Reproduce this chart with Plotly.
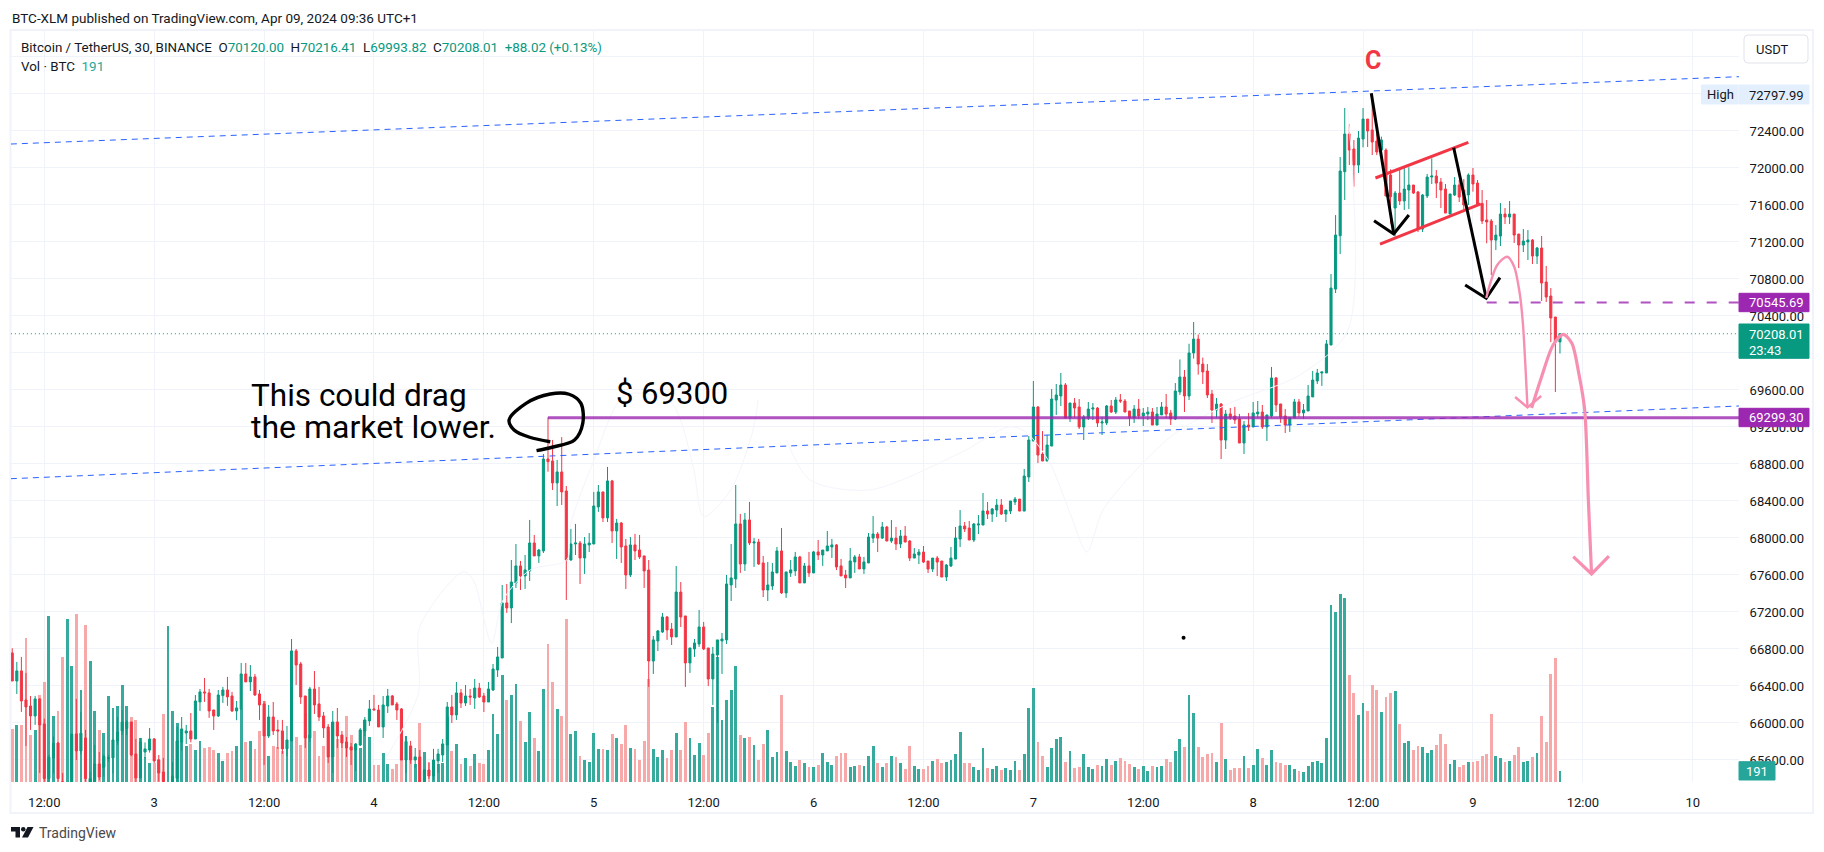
import pandas as pd
import plotly.graph_objects as go

# ---------- chart data (BTC/USDT 30 min) ----------
opens = [
66757,66454,66563,66249,66184,66076,66260,65990,65400,65622,65784,65365,65300,65365,65882,65698,65838,65300,65365,65557,
65520,65615,65622,65806,65914,65940,66011,65665,65406,65686,65708,65827,65600,65470,65290,65365,65400,65795,65892,65914,
65827,66228,66336,66325,66141,66076,66296,66357,66292,66130,66152,66530,66444,66498,66314,66206,65860,66065,65925,65914,
65720,65806,66779,66638,66292,65838,66368,66206,66076,65957,65633,66011,65870,65795,65741,65708,65762,65914,66022,66152,
66141,65957,66184,66292,66206,66152,65600,65752,65600,65633,65365,65492,65427,65590,65654,65762,66173,66087,66325,66216,
66292,66270,66378,66292,66227,66357,66573,66703,67298,67244,67514,67698,67590,67644,67946,67806,67860,68854,68833,68595,
68714,68508,67762,67935,67946,67784,67925,67935,68336,68498,68217,68617,68076,68162,67914,67600,67925,67870,67806,67654,
66670,66887,66984,67146,67016,66930,67416,67157,66649,66800,66854,67038,66811,66476,66735,66887,66898,67492,67557,68152,
67719,68195,67946,67957,67730,67438,67481,67622,67860,67406,67622,67644,67795,67514,67698,67622,67849,67816,67860,67903,
67925,67698,67600,67568,67741,67795,67665,67730,67999,68043,67999,68119,67967,67999,67935,68021,67967,67783,67816,67848,
67751,67664,67783,67751,67578,67697,67772,67989,68130,68108,67978,68140,68140,68292,68259,68302,68356,68259,68291,68389,
68421,68291,68659,69048,69416,68908,68832,68994,69491,69535,69654,69297,69459,69416,69200,69297,69394,69405,69243,69243,
69427,69362,69492,69481,69373,69297,69394,69319,69340,69362,69221,69330,69416,69351,69286,69578,69740,69535,70000,70150,
69880,69805,69556,69383,69448,69059,69341,69319,69287,69027,69222,69200,69341,69362,69200,69319,69730,69449,69319,69222,
69298,69471,69352,69373,69525,69698,69784,69784,70086,70691,71268,71960,72367,72205,72032,72313,72529,72411,72292,72194,
72194,71924,71567,71729,71643,71762,71816,71740,71340,71697,71902,71913,71848,71773,71502,71708,71816,71762,71708,71924,
71837,71617,71438,71427,71221,71264,71502,71470,71502,71286,71167,71200,71221,71048,71135,70767,70616,70389,70120]
highs = [
66808,66660,66714,66541,66292,66292,66267,66047,65655,65853,65795,65460,65350,65885,66260,66120,65925,65474,65763,65687,
65660,65655,65817,66065,66141,66030,66011,65827,65838,65790,65946,65838,65654,65622,65350,65578,65960,66065,65979,66108,
66303,66368,66487,66368,66141,66357,66390,66498,66336,66238,66649,66649,66627,66530,66357,66238,66195,66227,66033,66033,
65968,66908,66800,66660,66292,66390,66562,66390,66119,65989,66130,66162,65914,65849,65784,65784,65946,66065,66249,66303,
66195,66292,66368,66303,66227,66162,65860,65806,65730,65708,65500,65578,65720,65720,65827,66227,66303,66443,66368,66411,
66368,66476,66433,66325,66443,66638,66822,67492,67503,67762,67935,67752,67816,68195,68033,67881,68908,69305,69060,68844,
69090,68562,68098,68152,67968,68011,68054,68498,68573,68498,68768,68628,68206,68173,67990,68011,68044,68033,67806,67762,
66941,67006,67190,67157,67081,67697,67524,67157,66811,66908,67222,67092,66811,66822,66898,66973,67600,67935,68573,68260,
68271,68390,68000,67990,67806,67741,67730,67903,68108,67633,67762,67849,67806,67730,67849,67860,67979,67870,68076,67990,
67935,67773,67654,67892,67816,67827,67795,68054,68237,68064,68173,68130,68194,68119,68086,68130,67978,67891,67881,67913,
67751,67783,67805,67751,67718,67902,68119,68302,68173,68184,68162,68248,68486,68389,68324,68421,68421,68302,68400,68443,
68421,68746,69102,69697,69427,69156,69113,69610,69665,69784,69675,69459,69513,69502,69330,69470,69459,69416,69308,69438,
69492,69524,69557,69502,69373,69438,69502,69405,69416,69405,69416,69470,69557,69384,69675,69930,69816,70100,70335,70200,
69950,69880,69600,69513,69459,69384,69406,69417,69341,69265,69352,69470,69481,69438,69330,69849,69741,69449,69395,69301,
69503,69503,69449,69654,69806,69827,69795,70141,70854,71491,72119,72648,72475,72302,72400,72648,72529,72798,72375,72339,
72212,71985,71751,71978,72000,72007,71816,71751,71719,71935,72104,71978,71892,71827,71719,71902,71870,71880,71942,72000,
71870,71762,71654,71448,71383,71621,71567,71643,71502,71286,71340,71329,71232,71146,71265,70940,70702,70389,70216]
lows = [
66454,66314,66120,65752,65925,65979,65460,65365,65365,65456,65365,65300,65250,65300,65600,65660,65365,65280,65340,65380,
65420,65580,65456,65763,65870,65870,65640,65340,65406,65620,65680,65568,65365,65330,65250,65340,65350,65698,65773,65790,
65827,66130,66228,66055,65925,66065,66217,66185,66120,66030,66148,66444,66346,66292,66033,65546,65838,65870,65720,65665,
65644,65806,66411,66206,65730,65795,66098,66022,65838,65568,65460,65730,65730,65633,65546,65480,65752,65860,65968,66141,
65957,65838,66108,66195,66033,65600,65460,65557,65514,65330,65340,65395,65384,65460,65578,65762,66000,66033,66162,66184,
66195,66152,66270,66119,66227,66346,66498,66703,67190,67080,67460,67438,67449,67535,67806,67730,67838,68717,68519,68346,
68357,67330,67755,67816,67503,67611,67849,67935,68282,68173,68173,67946,67773,67730,67449,67578,67762,67773,67460,66390,
66530,66778,66973,66898,66843,66930,67038,66390,66541,66714,66822,66789,66400,66195,66000,66530,66854,67319,67460,67622,
67644,67924,67687,67708,67362,67319,67438,67622,67395,67352,67579,67590,67514,67514,67579,67622,67762,67698,67860,67784,
67654,67590,67460,67568,67622,67665,67611,67730,67946,67848,67989,67967,67946,67870,67891,67956,67751,67783,67718,67729,
67621,67632,67589,67578,67535,67686,67772,67902,68064,67978,67956,68043,68140,68205,68173,68227,68248,68173,68259,68356,
68291,68291,68605,69048,68810,68832,68832,68994,69330,69427,69297,69254,69297,69178,69059,69275,69275,69200,69113,69221,
69351,69340,69459,69362,69211,69243,69286,69211,69275,69221,69221,69330,69297,69221,69275,69546,69362,69492,69940,69766,
69665,69513,69243,69300,68854,68962,69276,69233,69027,68908,69157,69200,69301,69179,69049,69298,69362,69244,69135,69146,
69298,69308,69287,69373,69525,69665,69644,69784,70086,70648,71070,71654,72032,71798,71946,72223,72227,72140,72140,72100,
71697,71400,71257,71600,71546,71556,71719,71308,71308,71675,71827,71675,71567,71513,71502,71697,71632,71550,71600,71744,
71600,71394,71186,70843,71113,71156,71394,71394,71189,70918,71091,71005,70962,70962,70562,70551,70118,69578,69994]
closes = [
66454,66563,66238,66173,66076,66260,65979,65400,65630,65780,65400,65340,65340,65878,65698,65890,65400,65400,65557,65416,
65640,65625,65817,65903,66011,66011,65655,65406,65795,65720,65827,65590,65460,65365,65320,65427,65806,65936,65914,65827,
66238,66336,66325,66130,66076,66303,66357,66282,66130,66163,66530,66444,66498,66303,66195,65860,66065,65914,65914,65720,
65816,66779,66627,66281,65838,66368,66195,66065,65946,65633,66011,65860,65784,65730,65708,65773,65925,66033,66152,66141,
65957,66195,66292,66195,66141,65600,65800,65600,65633,65365,65492,65427,65600,65665,65773,66173,66087,66325,66216,66292,
66281,66378,66281,66227,66368,66584,66714,67298,67244,67524,67698,67590,67655,67946,67806,67870,68854,68825,68595,68714,
68498,67762,67935,67946,67784,67935,67946,68346,68498,68217,68617,68076,68162,67903,67600,67925,67860,67795,67644,66670,
66898,66995,67146,67006,66930,67416,67146,66649,66811,66865,67038,66800,66476,66746,66898,66908,67503,67568,68152,67719,
68195,67946,67957,67719,67438,67492,67633,67860,67406,67633,67655,67795,67514,67698,67622,67849,67816,67870,67914,67925,
67687,67590,67568,67752,67795,67665,67741,68011,68043,67999,68119,67967,67999,67935,68021,67956,67783,67827,67848,67740,
67664,67783,67740,67578,67708,67783,68000,68130,68097,67978,68151,68151,68292,68259,68313,68356,68259,68302,68400,68421,
68291,68670,69059,69416,68897,68832,69005,69502,69546,69654,69297,69459,69405,69200,69308,69394,69405,69243,69254,69427,
69362,69492,69481,69362,69297,69394,69319,69351,69362,69221,69340,69416,69340,69286,69589,69740,69535,70000,70150,69880,
69795,69546,69383,69448,69059,69340,69305,69276,69027,69222,69200,69352,69362,69200,69330,69730,69438,69308,69222,69301,
69471,69352,69384,69535,69708,69784,69795,70098,70702,71275,71967,72367,72194,72032,72324,72529,72400,72281,72173,72303,
71697,71690,71729,71643,71773,71816,71729,71340,71708,71902,71913,71837,71762,71513,71719,71816,71686,71600,71924,71827,
71610,71427,71416,71221,71275,71502,71470,71502,71275,71167,71210,71221,71048,71135,70756,70605,70378,70120,70208]
volumes = [
946,1017,1017,2570,839,928,1553,1785,2963,1178,1267,2231,2917,2071,3000,1642,2802,2160,1267,928,
875,1535,1321,1357,1731,1357,1160,1107,785,446,339,339,410,1214,2785,1267,1053,732,643,678,
571,732,607,625,571,518,375,518,553,643,1303,714,732,589,910,1446,464,643,625,553,
750,2053,803,660,1232,839,910,464,643,910,1071,768,839,1178,839,678,607,1107,803,303,
303,518,321,232,321,732,821,518,321,1053,535,339,393,321,339,1160,553,678,321,428,
286,500,339,321,571,1214,857,1910,1464,1553,1749,1089,714,1250,785,553,1660,2463,1785,1303,
1178,2910,857,910,464,393,357,875,589,589,571,857,785,678,1017,607,589,393,732,1839,
589,446,571,428,571,875,571,1071,785,482,696,482,875,1339,2231,1107,1464,1642,2071,839,
785,803,660,393,678,928,446,535,1553,553,357,286,393,339,268,268,303,518,357,303,
464,518,518,268,286,303,286,464,643,339,268,339,464,446,339,232,643,286,232,232,
286,375,411,339,357,393,500,893,339,339,268,214,607,250,232,286,214,250,214,375,
214,500,1321,1678,714,464,268,607,768,803,357,553,250,268,500,268,232,303,286,411,
303,375,428,375,321,268,232,286,196,286,268,286,411,357,553,768,625,1553,1232,625,
446,500,518,357,1053,411,214,244,244,458,244,298,583,422,298,565,351,333,298,298,
226,190,173,280,351,369,333,780,3154,3029,3350,3278,1904,1583,1190,1404,1261,1726,1636,1244,
1511,1583,1618,1029,690,726,565,637,619,512,565,655,851,672,315,387,262,298,351,351,
369,458,494,1208,458,422,351,369,476,619,351,369,440,512,1172,708,1922,2207,191]

tick_times = ["2024-04-02 12:00","2024-04-03 00:00","2024-04-03 12:00","2024-04-04 00:00","2024-04-04 12:00",
              "2024-04-05 00:00","2024-04-05 12:00","2024-04-06 00:00","2024-04-06 12:00","2024-04-07 00:00",
              "2024-04-07 12:00","2024-04-08 00:00","2024-04-08 12:00","2024-04-09 00:00","2024-04-09 12:00",
              "2024-04-10 00:00"]
tick_text = ["12:00","3","12:00","4","12:00","5","12:00","6","12:00","7","12:00","8","12:00","9","12:00","10"]
price_ticks = [65600,66000,66400,66800,67200,67600,68000,68400,68800,69200,69600,70000,70400,70800,71200,71600,72000,72400,72800,73200]
price_tick_text = ["65600.00","66000.00","66400.00","66800.00","67200.00","67600.00","68000.00","68400.00","68800.00","69200.00",
                   "69600.00","70000.00","70400.00","70800.00","71200.00","71600.00","72000.00","72400.00","",""]

# Hand-drawn annotations: bar position (30-minute bars since the first bar), price
upper_x, upper_p = [-0.3, 377.1], [72259, 72987]
lower_x, lower_p = [-0.3, 377.1], [68641, 69427]
support_x, support_p = [117, 377.1], [69299.30, 69299.30]
level_x, level_p = [322, 377.1], [70545.69, 70545.69]
last_x, last_p = [-0.3, 377.1], [70208.01, 70208.01]
chan_up_x, chan_up_p = [297.7, 318], [71892, 72278]
chan_dn_x, chan_dn_p = [298.7, 320.7], [71178, 71611]
arrow1_x, arrow1_p = [296.8, 301.7], [72807, 71286]
head1_x, head1_p = [297.4, 301.7, 305], [71430, 71286, 71492]
arrow2_x, arrow2_p = [314.8, 321.9], [72219, 70591]
head2_x, head2_p = [317.3, 321.9, 324.9], [70735, 70591, 70814]
curve_a_x = [321.9, 324.3, 326.5, 328.0, 329.2, 329.9, 330.9]
curve_a_p = [70595, 70951, 71041, 70933, 70649, 70324, 69419]
head_a_x, head_a_p = [328.2, 330.9, 333.9], [69524, 69412, 69535]
curve_b_x = [331.8, 334.0, 336.5, 338.7, 340.6, 342.1, 343.4, 344.2, 344.9]
curve_b_p = [69405, 69744, 70086, 70202, 70105, 69784, 69384, 68411, 67611]
head_b_x, head_b_p = [340.9, 344.9, 348.7], [67798, 67611, 67805]
lasso_x = [114.5,117.9,122.8,124.6,124.2,121.6,117.5,112.2,108.5,109.6,113,117.5]
lasso_p = [68944,68981,69059,69240,69456,69554,69557,69456,69276,69168,69089,69041]
faint_x = [81.8,88.7,89.0,98.5,100.7,104.7,107.2,113.1,121.1,121.8,126.8,133.8,143.9,148.7,151,156.9,161.6,162.9,None,
           169.1,174.2,187.3,207,217.9,221.6,226.6,231,234.7,238.2,246.9,254.4,265.9,281.2,291.7,291.7]
faint_p = [65636,66321,67041,67636,67546,66862,67330,67654,67762,68122,68811,69546,69459,68771,68230,68519,69132,69492,None,
           69059,68627,68519,68919,69203,69135,68811,68270,67849,68303,68811,69149,69459,69762,70249,72627]
dot_x, dot_p = [255.8], [66922]

assert len(opens) == len(highs) == len(lows) == len(closes) == len(volumes) == 339

# ---------- styling ----------
UP, DOWN = "#089981", "#F23645"
VOL_UP, VOL_DOWN = "#36AA9D", "#F7A8A8"
GRID = "#F0F3FA"
PURPLE = "rgba(156,39,176,0.8)"
BLUE = "#2962FF"
PINK = "#F78FB1"
FONT = "Roboto"
TEXT = "#131722"
L, R, T, B = 11, 1739, 31, 782      # plot area, in page pixels

t0 = pd.Timestamp("2024-04-02 08:30")
times = pd.date_range(t0, periods=len(opens), freq="30min")
def at(positions):
    return [None if p is None else t0 + pd.Timedelta(minutes=30 * p) for p in positions]
def px(x): return (x - L) / (R - L)
def py(y): return (B - y) / (B - T)

fig = go.Figure()
fig.add_bar(x=times, y=volumes, yaxis="y",
            marker=dict(color=[VOL_UP if c >= o else VOL_DOWN for o, c in zip(opens, closes)], line_width=0),
            width=0.62 * 1800000, hoverinfo="skip")
fig.add_candlestick(x=times, open=opens, high=highs, low=lows, close=closes, yaxis="y2",
                    whiskerwidth=0,
                    increasing=dict(line=dict(color=UP, width=1), fillcolor=UP),
                    decreasing=dict(line=dict(color=DOWN, width=1), fillcolor=DOWN))

def line(xs, ps, color, width, dash="solid", shape="linear", smoothing=None):
    ln = dict(color=color, width=width, dash=dash, shape=shape)
    if smoothing is not None:
        ln["smoothing"] = smoothing
    fig.add_scatter(x=at(xs), y=ps, yaxis="y2", mode="lines", line=ln, hoverinfo="skip", connectgaps=False)

line(faint_x, faint_p, "#F4F5FD", 1, shape="spline", smoothing=0.8)
line(last_x, last_p, UP, 1, dash="1px,3px")
line(upper_x, upper_p, BLUE, 1, dash="6px,5px")
line(lower_x, lower_p, BLUE, 1, dash="6px,5px")
line(support_x, support_p, PURPLE, 3)
line(level_x, level_p, PURPLE, 2, dash="10px,12px")
line(chan_up_x, chan_up_p, DOWN, 3)
line(chan_dn_x, chan_dn_p, DOWN, 3)
line(arrow1_x, arrow1_p, "#000000", 3)
line(head1_x, head1_p, "#000000", 3)
line(arrow2_x, arrow2_p, "#000000", 3)
line(head2_x, head2_p, "#000000", 3)
line(curve_a_x, curve_a_p, PINK, 2.4, shape="spline", smoothing=0.8)
line(head_a_x, head_a_p, PINK, 2.4)
line(curve_b_x, curve_b_p, PINK, 3.2, shape="spline", smoothing=0.8)
line(head_b_x, head_b_p, PINK, 3.2)
line(lasso_x, lasso_p, "#000000", 3.4, shape="spline", smoothing=0.9)
fig.add_scatter(x=at(dot_x), y=dot_p, yaxis="y2", mode="markers",
                marker=dict(color="#000000", size=4), hoverinfo="skip")

def note(text, x, y, size=13, color=TEXT, anchor="left", valign="middle", **kw):
    fig.add_annotation(text=text, xref="paper", yref="paper", x=px(x), y=py(y), xanchor=anchor,
                       yanchor=valign, showarrow=False, font=dict(family=FONT, size=size, color=color),
                       borderpad=0, **kw)

def box(x0, y0, x1, y1, fill, line_color=None, radius=0):
    fig.add_shape(type="rect", xref="paper", yref="paper", x0=px(x0), x1=px(x1), y0=py(y0), y1=py(y1),
                  fillcolor=fill, line=dict(color=line_color or fill, width=1), layer="above")

g = lambda s: f'<span style="color:{UP}">{s}</span>'
note("BTC-XLM published on TradingView.com, Apr 09, 2024 09:36 UTC+1", 11, 17.5, size=13.5)
note("Bitcoin / TetherUS, 30, BINANCE  O" + g("70120.00") + "  H" + g("70216.41") + "  L" + g("69993.82")
     + "  C" + g("70208.01") + "  " + g("+88.02 (+0.13%)"), 20, 47, size=13.4)
note('Vol · BTC  <span style="color:#26A69A">191</span>', 20, 66, size=13.4)

note("This could drag", 250, 395, size=31.5, color="#000000")
note("the market lower.", 250, 427, size=32, color="#000000")
note("$ 69300", 615, 393, size=31, color="#000000")
note("<b>C</b>", 1372.5, 60.5, size=25, color=DOWN, anchor="center")

# price-scale labels
box(1701.5, 85, 1738, 104, "#E3EFFD")
box(1739, 85, 1809, 104, "#E3EFFD")
note("High", 1720, 94.5, color=TEXT, anchor="center")
note("72797.99", 1748, 95, color=TEXT)
box(1739, 293.3, 1809, 311.7, "#9C27B0")
note("70545.69", 1748, 302.5, color="#FFFFFF")
box(1739, 324, 1809, 358.3, UP)
note("70208.01", 1748, 334, color="#FFFFFF")
note("23:43", 1748, 350, color="#FFFFFF")
box(1739, 408.3, 1809, 426.7, "#9C27B0")
note("69299.30", 1748, 417.5, color="#FFFFFF")
box(1739, 761.7, 1775, 780, "#26A69A")
note("191", 1757, 771, color="#FFFFFF", anchor="center")

# USDT button
fig.add_shape(type="path", xref="paper", yref="paper", layer="above", fillcolor="#FFFFFF",
              line=dict(color="#E0E3EB", width=1),
              path=f"M {px(1748)} {py(35)} L {px(1804)} {py(35)} Q {px(1808)} {py(35)} {px(1808)} {py(39)} "
                   f"L {px(1808)} {py(59)} Q {px(1808)} {py(63)} {px(1804)} {py(63)} L {px(1748)} {py(63)} "
                   f"Q {px(1744)} {py(63)} {px(1744)} {py(59)} L {px(1744)} {py(39)} Q {px(1744)} {py(35)} {px(1748)} {py(35)} Z")
note("USDT", 1755, 49.5, size=13)

# outer frame
fig.add_shape(type="rect", xref="paper", yref="paper", layer="below", x0=px(10.5), x1=px(1813), y0=py(813), y1=py(30),
              line=dict(color=GRID, width=2))

# TradingView mark
def poly(pts, fill="#131722"):
    d = "M " + " L ".join(f"{px(a)} {py(b)}" for a, b in pts) + " Z"
    fig.add_shape(type="path", xref="paper", yref="paper", path=d, fillcolor=fill, line_width=0, layer="above")
poly([(11, 827), (20, 827), (20, 837.5), (15.5, 837.5), (15.5, 831.5), (11, 831.5)])
poly([(27.5, 827), (33.5, 827), (28, 837.5), (22, 837.5)])
fig.add_shape(type="circle", xref="paper", yref="paper", x0=px(21), x1=px(25.5), y0=py(831.5), y1=py(827),
              fillcolor="#131722", line_width=0, layer="above")
note("TradingView", 38, 832.7, size=14, color="#4A4A4A")

fig.update_layout(
    width=1824, height=852, autosize=False,
    margin=dict(l=L, r=1824 - R, t=T, b=852 - B, pad=0),
    paper_bgcolor="#FFFFFF", plot_bgcolor="#FFFFFF",
    showlegend=False, bargap=0, boxgap=0.35,
    font=dict(family=FONT, size=13, color=TEXT),
    xaxis=dict(type="date", range=at([-0.27, 377.1]), tickvals=tick_times, ticktext=tick_text, tickangle=0,
               rangeslider=dict(visible=False), showgrid=True, gridcolor=GRID, gridwidth=1, zeroline=False,
               showline=False, ticks="outside", ticklen=8, tickcolor="rgba(0,0,0,0)",
               tickfont=dict(family=FONT, size=13, color=TEXT)),
    yaxis=dict(range=[0, 13405], visible=False, fixedrange=True),
    yaxis2=dict(range=[65362, 73481], overlaying="y", side="right", anchor="x", tickvals=price_ticks,
                ticktext=price_tick_text, showgrid=True, gridcolor=GRID, gridwidth=1,
                zeroline=False, showline=False, ticks="outside", ticklen=7, tickcolor="rgba(0,0,0,0)",
                tickfont=dict(family=FONT, size=13, color=TEXT)),
)

fig.write_html("out.html", config=dict(displayModeBar=False),
               post_script="document.body.style.margin='0';document.body.style.overflow='hidden';")
